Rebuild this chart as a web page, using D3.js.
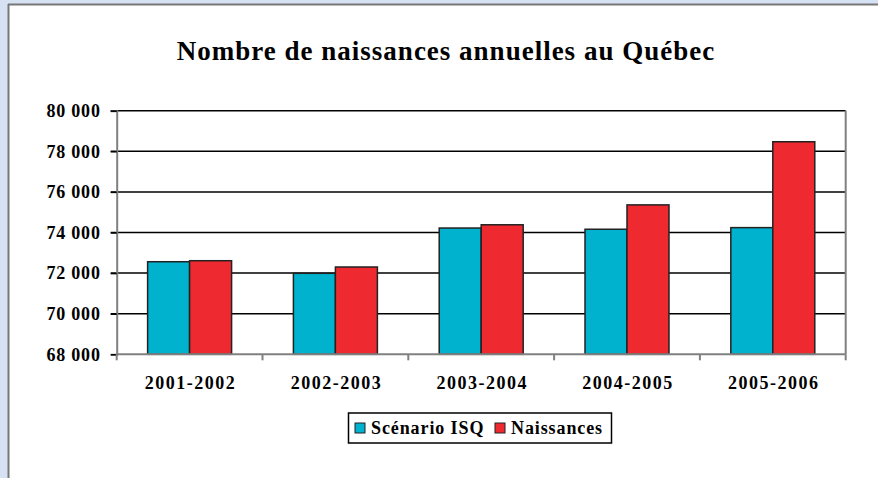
<!DOCTYPE html>
<html>
<head>
<meta charset="utf-8">
<script src="https://cdn.jsdelivr.net/npm/d3@7"></script>
<style>
  html, body { margin: 0; padding: 0; background: #d6e1f3; }
  svg { display: block; }
</style>
</head>
<body>
<div id="container"><svg></svg></div>
<script>
let width = 878
let height = 478
let fontFamily = "Liberation Serif, DejaVu Serif, serif"

// data
let categories = ['2001-2002', '2002-2003', '2003-2004', '2004-2005', '2005-2006']
let scenario = [72560, 71990, 74220, 74160, 74240]
let naissances = [72610, 72300, 74380, 75360, 78470]
let y_ticks = [68000, 70000, 72000, 74000, 76000, 78000, 80000]
let series_names = ['Scénario ISQ', 'Naissances']
let series_colors = ['#00b2cd', '#ee2a30']
let title = 'Nombre de naissances annuelles au Québec'

let fmt = d3.formatLocale({ decimal: ',', thousands: ' ', grouping: [3], currency: ['', ''] }).format(',d')

function draw_main() {
    let padding = { left: 116.7, right: width - 845.7, top: 110.7, bottom: height - 354.3 }
    let svg = d3.select('#container').select('svg')
        .attr('width', width)
        .attr('height', height)

    // frame
    svg.append('rect')
        .attr('x', 0).attr('y', 0).attr('width', width).attr('height', height)
        .attr('fill', '#d6e1f3')
    svg.append('rect')
        .attr('x', 9).attr('y', 5).attr('width', width - 9).attr('height', height - 5)
        .attr('fill', '#ffffff')
    svg.append('line')
        .attr('x1', 8.5).attr('x2', 8.5).attr('y1', 4).attr('y2', height)
        .attr('stroke', '#777').attr('stroke-width', 2)
    svg.append('line')
        .attr('x1', 8).attr('x2', width).attr('y1', 4.5).attr('y2', 4.5)
        .attr('stroke', '#777').attr('stroke-width', 2)

    // title
    svg.append('text')
        .attr('x', 446)
        .attr('y', 60)
        .attr('text-anchor', 'middle')
        .attr('font-family', fontFamily)
        .attr('font-weight', 'bold')
        .attr('font-size', 27)
        .attr('letter-spacing', 1)
        .attr('fill', '#000')
        .text(title)

    let x0 = d3.scaleBand()
        .domain(categories)
        .range([padding.left, width - padding.right])
        .paddingInner(0.424)
        .paddingOuter(0.212)
    let x1 = d3.scaleBand()
        .domain(series_names)
        .range([0, x0.bandwidth()])
    let y = d3.scaleLinear()
        .domain([68000, 80000])
        .range([height - padding.bottom, padding.top])

    // grid lines
    svg.append('g')
        .selectAll('line')
        .data(y_ticks.slice(1))
        .enter().append('line')
        .attr('x1', padding.left - 6)
        .attr('x2', width - padding.right)
        .attr('y1', d => y(d))
        .attr('y2', d => y(d))
        .attr('stroke', '#000')
        .attr('stroke-width', 1.5)

    // y axis
    let axis_y = d3.axisLeft(y)
        .tickValues(y_ticks)
        .tickFormat(fmt)
        .tickSize(6)
        .tickPadding(10)
    let gy = svg.append('g')
        .attr('transform', `translate(${padding.left}, 0)`)
        .call(axis_y)
        .attr('font-family', fontFamily)
    gy.select('.domain').attr('stroke', '#808080').attr('stroke-width', 2)
    gy.selectAll('.tick line').attr('stroke', '#000').attr('stroke-width', 1.5)
    gy.selectAll('text')
        .attr('font-family', fontFamily)
        .attr('font-weight', 'bold')
        .attr('font-size', 18)
        .attr('letter-spacing', 0.8)
        .attr('fill', '#000')

    // right border
    svg.append('line')
        .attr('x1', width - padding.right).attr('x2', width - padding.right)
        .attr('y1', padding.top).attr('y2', y(68000))
        .attr('stroke', '#808080').attr('stroke-width', 2)

    // bars
    let rows = categories.map((c, i) => ({ cat: c, values: [scenario[i], naissances[i]] }))
    svg.append('g')
        .selectAll('g')
        .data(rows)
        .enter().append('g')
        .attr('transform', d => `translate(${x0(d.cat)}, 0)`)
        .selectAll('rect')
        .data(d => d.values.map((v, j) => ({ name: series_names[j], value: v, color: series_colors[j] })))
        .enter().append('rect')
        .attr('x', d => x1(d.name))
        .attr('y', d => y(d.value))
        .attr('width', x1.bandwidth())
        .attr('height', d => y(68000) - y(d.value))
        .attr('fill', d => d.color)
        .attr('stroke', '#222')
        .attr('stroke-width', 1.5)

    // x axis
    let step = x0.step()
    let boundaries = d3.range(categories.length + 1).map(i => padding.left + i * step)
    let gx = svg.append('g')
    gx.append('line')
        .attr('x1', padding.left).attr('x2', width - padding.right)
        .attr('y1', y(68000)).attr('y2', y(68000))
        .attr('stroke', '#808080').attr('stroke-width', 2)
    gx.selectAll('.xtick')
        .data(boundaries)
        .enter().append('line')
        .attr('class', 'xtick')
        .attr('x1', d => d).attr('x2', d => d)
        .attr('y1', y(68000)).attr('y2', y(68000) + 6)
        .attr('stroke', '#808080').attr('stroke-width', 2)
    gx.selectAll('text')
        .data(categories)
        .enter().append('text')
        .attr('x', d => x0(d) + x0.bandwidth() / 2 + 1)
        .attr('y', 389)
        .attr('text-anchor', 'middle')
        .attr('font-family', fontFamily)
        .attr('font-weight', 'bold')
        .attr('font-size', 18)
        .attr('letter-spacing', 1.5)
        .text(d => d)

    // legend
    let legend = svg.append('g')
    legend.append('rect')
        .attr('x', 348.5).attr('y', 413)
        .attr('width', 263).attr('height', 30)
        .attr('fill', '#fff')
        .attr('stroke', '#000')
        .attr('stroke-width', 1.5)
    let legend_x = [355, 495]
    series_names.forEach((name, i) => {
        legend.append('rect')
            .attr('x', legend_x[i]).attr('y', 423)
            .attr('width', 10).attr('height', 10)
            .attr('fill', series_colors[i])
            .attr('stroke', '#222')
            .attr('stroke-width', 1)
        legend.append('text')
            .attr('x', legend_x[i] + 16)
            .attr('y', 434)
            .attr('font-family', fontFamily)
            .attr('font-weight', 'bold')
            .attr('font-size', 18)
            .attr('letter-spacing', 0.9)
            .text(name)
    })
}

draw_main()
</script>
</body>
</html>
